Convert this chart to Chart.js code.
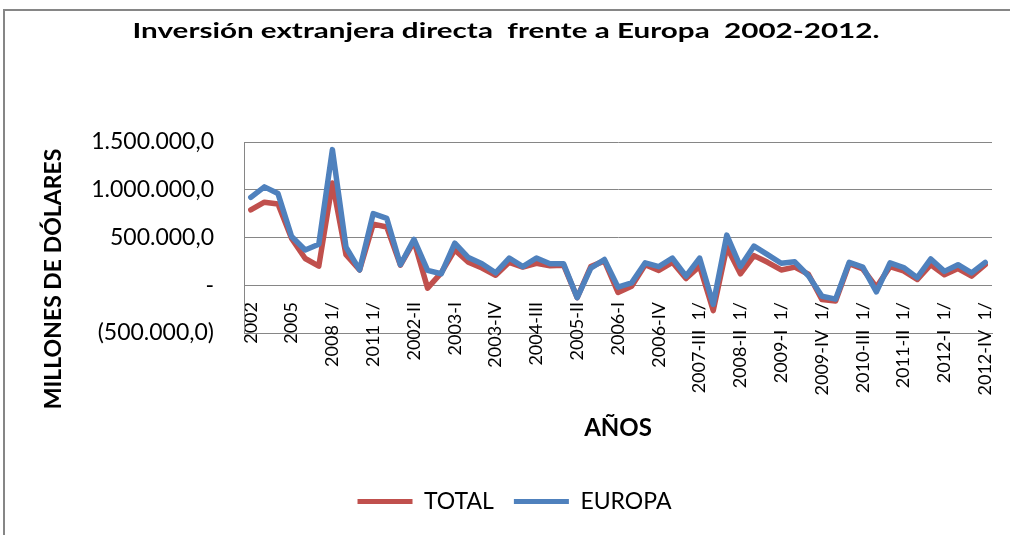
<!DOCTYPE html>
<html>
<head>
<meta charset="utf-8">
<script src="https://cdn.jsdelivr.net/npm/chart.js@4.4.1/dist/chart.umd.min.js"></script>
<style>
  html, body { margin: 0; padding: 0; background: #fff; overflow: hidden; }
  #marco { position: absolute; left: 3px; top: 9px; width: 1005px; height: 524px;
           border-left: 2px solid #868686; border-top: 2px solid #868686; }
  #grafico { position: absolute; left: 0; top: 0; }
</style>
</head>
<body>
<div id="marco"></div>
<canvas id="grafico" width="1010" height="535"></canvas>
<script>
// grafico IED total vs Europa
const categorias = [
  "2002", "2003", "2004", "2005", "2006", "2007", "2008 1/", "2009 1/", "2010 1/", "2011 1/", "2012 1/",
  "2002-I", "2002-II", "2002-III", "2002-IV",
  "2003-I", "2003-II", "2003-III", "2003-IV",
  "2004-I", "2004-II", "2004-III", "2004-IV",
  "2005-I", "2005-II", "2005-III", "2005-IV",
  "2006-I", "2006-II", "2006-III", "2006-IV",
  "2007-I", "2007-II", "2007-III  1/", "2007-IV  1/",
  "2008-I  1/", "2008-II  1/", "2008-III  1/", "2008-IV  1/",
  "2009-I  1/", "2009-II  1/", "2009-III  1/", "2009-IV  1/",
  "2010-I  1/", "2010-II  1/", "2010-III  1/", "2010-IV  1/",
  "2011-I  1/", "2011-II  1/", "2011-III  1/", "2011-IV  1/",
  "2012-I  1/", "2012-II  1/", "2012-III  1/", "2012-IV  1/"
];

const total = [
  790000, 870000, 850000, 490000, 280000, 200000, 1070000, 320000, 160000, 640000, 610000,
  210000, 460000, -30000, 130000,
  370000, 240000, 180000, 105000,
  240000, 190000, 230000, 205000,
  210000, -130000, 195000, 255000,
  -75000, -10000, 215000, 155000,
  240000, 70000, 200000, -265000,
  400000, 120000, 310000, 240000,
  160000, 190000, 115000, -150000,
  -165000, 225000, 170000, -20000,
  195000, 150000, 60000, 215000,
  110000, 175000, 95000, 215000
];

const europa = [
  920000, 1030000, 960000, 510000, 370000, 430000, 1420000, 400000, 160000, 750000, 700000,
  215000, 480000, 155000, 120000,
  440000, 290000, 225000, 130000,
  285000, 195000, 285000, 225000,
  225000, -130000, 180000, 270000,
  -20000, 25000, 235000, 195000,
  285000, 95000, 285000, -200000,
  525000, 195000, 410000, 320000,
  230000, 245000, 100000, -115000,
  -145000, 240000, 190000, -70000,
  235000, 185000, 80000, 275000,
  145000, 215000, 130000, 240000
];

const etiquetasY = ["(500.000,0)", "-", "500.000,0", "1.000.000,0", "1.500.000,0"];

const titulo = "Inversión extranjera directa  frente a Europa  2002-2012.";
const tituloY = "MILLONES DE DÓLARES";
const tituloX = "AÑOS";

const ROJO = "#C0504D";
const AZUL = "#4F81BD";
const GRIS = "#868686";
const fuente = "Lato";

Chart.defaults.color = "#000";
Chart.defaults.font.family = fuente;

// titulo principal (ensanchado como en el original) y titulo del eje Y
const textosExtra = {
  id: "textosExtra",
  afterDraw(chart) {
    const ctx = chart.ctx;
    ctx.save();
    ctx.fillStyle = "#000";
    ctx.textAlign = "center";
    ctx.textBaseline = "middle";
    ctx.font = "bold 21px " + fuente;
    const ancho = ctx.measureText(titulo).width;
    ctx.translate(506, 31);
    ctx.scale(747 / ancho, 1);
    ctx.fillText(titulo, 0, 0);
    ctx.restore();

    ctx.save();
    ctx.fillStyle = "#000";
    ctx.textAlign = "center";
    ctx.textBaseline = "middle";
    ctx.font = "bold 23px " + fuente;
    ctx.translate(54, 279);
    ctx.rotate(-Math.PI / 2);
    ctx.fillText(tituloY, 0, 0);
    ctx.restore();
  }
};

new Chart(document.getElementById("grafico"), {
  type: "line",
  data: {
    labels: categorias,
    datasets: [
      { label: "EUROPA", data: europa, borderColor: AZUL, backgroundColor: AZUL },
      { label: "TOTAL", data: total, borderColor: ROJO, backgroundColor: ROJO }
    ]
  },
  plugins: [textosExtra],
  options: {
    responsive: false,
    animation: false,
    devicePixelRatio: 1,
    layout: { padding: { left: 37, right: 18, top: 142, bottom: 12 } },
    elements: {
      line: { borderWidth: 5.5, tension: 0, borderJoinStyle: "round", borderCapStyle: "round", fill: false },
      point: { radius: 0 }
    },
    plugins: {
      title: { display: false },
      legend: {
        position: "bottom",
        labels: {
          boxWidth: 55,
          boxHeight: 5,
          padding: 20,
          font: { family: fuente, size: 23 },
          sort: (a, b) => b.datasetIndex - a.datasetIndex,
          generateLabels: chart => Chart.defaults.plugins.legend.labels.generateLabels(chart)
            .map(it => Object.assign(it, { lineWidth: 0 }))
        }
      },
      tooltip: { enabled: false }
    },
    scales: {
      x: {
        offset: true,
        grid: { display: false, drawTicks: false },
        border: { color: GRIS },
        ticks: {
          autoSkip: false,
          maxRotation: 90,
          minRotation: 90,
          padding: -31,
          font: { family: fuente, size: 18 },
          callback: (v, i) => (i % 3 === 0 ? categorias[i] : "")
        },
        title: {
          display: true,
          text: tituloX,
          font: { family: fuente, size: 24, weight: "bold" },
          padding: { top: 0, bottom: 27 }
        },
        afterFit: s => {
          s.height = 137;
          // las etiquetas suben por encima del borde del eje, no recortarlas
          s._computeLabelArea = () => undefined;
        }
      },
      y: {
        min: -500000,
        max: 1500000,
        grid: { color: GRIS, drawTicks: false },
        border: { color: GRIS },
        ticks: {
          stepSize: 500000,
          padding: 30,
          font: { family: fuente, size: 23 },
          callback: (v, i) => etiquetasY[i]
        },
        afterFit: s => { s.width = 207; }
      }
    }
  }
});
</script>
</body>
</html>
